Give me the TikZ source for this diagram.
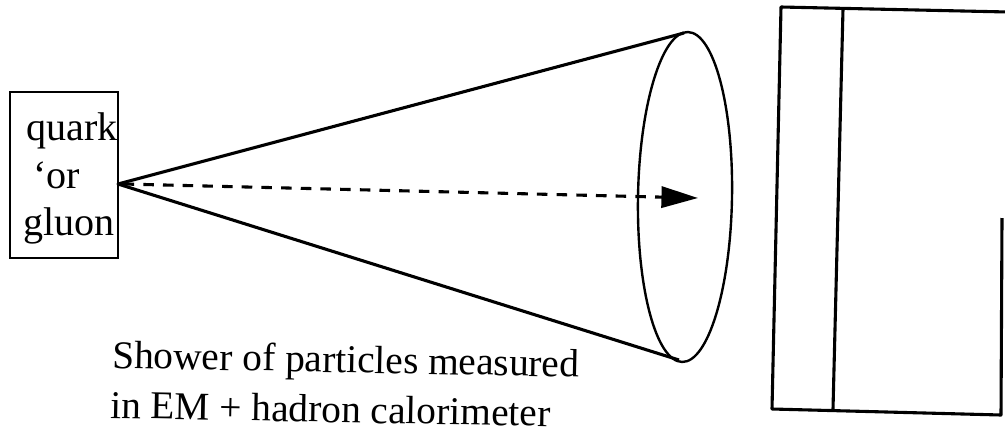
\documentclass[tikz,border=0pt]{standalone}
\usepackage{fontspec}
\setmainfont{Liberation Serif}
\usetikzlibrary{arrows.meta}
\begin{document}
\begin{tikzpicture}[x=0.025cm,y=-0.025cm,
  thick line/.style={line width=2.2pt},
  boxtext/.style={font=\fontsize{28.5pt}{31pt}\selectfont, inner sep=0pt, anchor=base west},
  captext/.style={font=\fontsize{28pt}{31pt}\selectfont, inner sep=0pt, anchor=base west, rotate=-1.1},
  dashedarrow/.style={line width=2.2pt, dash pattern=on 7.5pt off 6.5pt, -{Triangle[length=26pt,width=15pt]}}]
\useasboundingbox (0,0) rectangle (1005,435);
% left box
\node[draw, line width=2pt, minimum width=108*0.025cm, minimum height=166*0.025cm, inner sep=0pt] (src) at (64,175) {};
\node[boxtext] (q) at (26,140) {quark};
\node[boxtext] (o) at (33,188) {‘or};
\node[boxtext] (g) at (23,235) {gluon};
% cone
\coordinate (apex) at (118,184);
\coordinate (ctop) at (684,33);
\coordinate (cbot) at (679,360);
\coordinate (tip) at (698,198);
\draw[line width=1.7pt, rotate around={-1:(685,197)}] (685,197) ellipse [x radius=47, y radius=165];
\draw[thick line, line join=round] (ctop) -- (apex) -- (cbot);
\draw[dashedarrow] ([xshift=4]apex) -- (tip);
% calorimeter
\coordinate (tl) at (781,7);
\coordinate (tr) at (1008,12);
\coordinate (bl) at (772,409);
\coordinate (br) at (1001,415);
\coordinate (rm) at (1002,218);
\coordinate (it) at (843,9);
\coordinate (ib) at (833,409);
\draw[thick line, line join=round] (tr) -- (tl) -- (bl) -- (br) -- (rm);
\draw[thick line] (it) -- (ib);
% caption
\node[captext] (c1) at (112,368) {Shower of particles measured};
\node[captext] (c2) at (110,418) {in EM + hadron calorimeter};
\end{tikzpicture}
\end{document}
